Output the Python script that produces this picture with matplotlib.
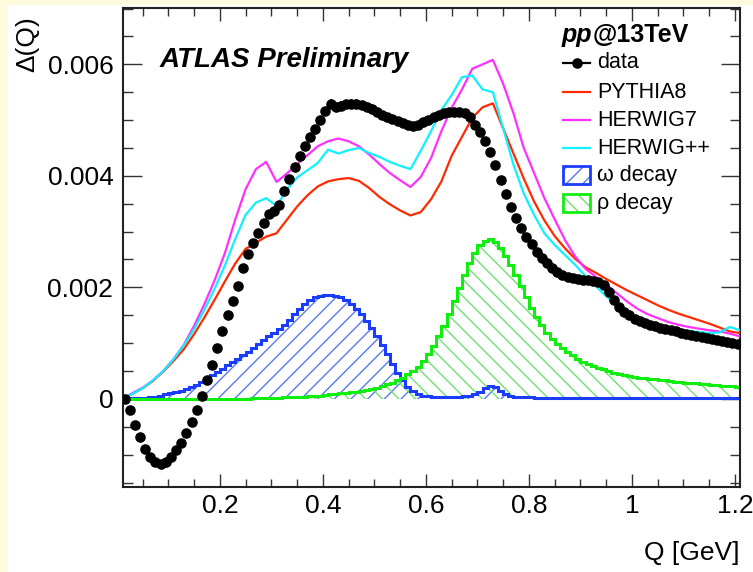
import numpy as np
import matplotlib
matplotlib.use('Agg')
import matplotlib.pyplot as plt
from matplotlib.patches import Rectangle
from matplotlib.lines import Line2D
from matplotlib.ticker import MultipleLocator, FuncFormatter

plt.rcParams['font.family'] = ['Liberation Sans', 'DejaVu Sans']
plt.rcParams['hatch.linewidth'] = 1.0

# ---------------- data ----------------
# histogram bins (0.01 GeV wide)
bin_edges = np.round(np.arange(0.01, 1.2101, 0.01), 3)
bin_centers = 0.5 * (bin_edges[:-1] + bin_edges[1:])

data_vals = [
    0.0, -0.00020, -0.00047, -0.00069, -0.00090, -0.00104, -0.00113, -0.00116, -0.00113, -0.00104,
    -0.00092, -0.00079, -0.00062, -0.00042, -0.00020, 0.00005, 0.00033, 0.00060, 0.00091, 0.00121,
    0.00150, 0.00176, 0.00203, 0.00235, 0.00259, 0.00279, 0.00298, 0.00316, 0.00331, 0.00337,
    0.00348, 0.00372, 0.00394, 0.00415, 0.00435, 0.00453, 0.00470, 0.00484, 0.00500, 0.00516,
    0.00528, 0.00524, 0.00526, 0.00528, 0.00529, 0.00529, 0.00527, 0.00524, 0.00520, 0.00515,
    0.00510, 0.00506, 0.00502, 0.00499, 0.00495, 0.00491, 0.00490, 0.00491, 0.00496, 0.00500,
    0.00505, 0.00509, 0.00512, 0.00514, 0.00515, 0.00515, 0.00512, 0.00505, 0.00491, 0.00478,
    0.00462, 0.00443, 0.00420, 0.00393, 0.00367, 0.00344, 0.00324, 0.00306, 0.00291, 0.00278,
    0.00264, 0.00253, 0.00243, 0.00235, 0.00228, 0.00223, 0.00219, 0.00216, 0.00215, 0.00214,
    0.00213, 0.00212, 0.00210, 0.00204, 0.00192, 0.00177, 0.00165, 0.00156, 0.00150, 0.00144,
    0.00139, 0.00136, 0.00133, 0.00130, 0.00128, 0.00125, 0.00123, 0.00121, 0.00119, 0.00117,
    0.00115, 0.00113, 0.00111, 0.00109, 0.00107, 0.00106, 0.00104, 0.00102, 0.00101, 0.00099,
]

data_errs = [
    0.00002, 0.00002, 0.00002, 0.00002, 0.00002, 0.00002, 0.00002, 0.00002, 0.00002, 0.00002,
    0.00002, 0.00002, 0.00002, 0.00002, 0.00002, 0.00002, 0.00002, 0.00002, 0.00002, 0.00002,
    0.00002, 0.00002, 0.00002, 0.00002, 0.00002, 0.00002, 0.00002, 0.00002, 0.00002, 0.00003,
    0.00003, 0.00003, 0.00003, 0.00003, 0.00003, 0.00003, 0.00004, 0.00004, 0.00005, 0.00006,
    0.00009, 0.00008, 0.00009, 0.00008, 0.00009, 0.00008, 0.00008, 0.00007, 0.00008, 0.00007,
    0.00007, 0.00007, 0.00007, 0.00007, 0.00007, 0.00007, 0.00007, 0.00007, 0.00007, 0.00007,
    0.00007, 0.00007, 0.00007, 0.00007, 0.00007, 0.00007, 0.00006, 0.00006, 0.00005, 0.00005,
    0.00004, 0.00004, 0.00004, 0.00004, 0.00004, 0.00004, 0.00004, 0.00004, 0.00005, 0.00005,
    0.00005, 0.00005, 0.00005, 0.00006, 0.00006, 0.00006, 0.00006, 0.00006, 0.00006, 0.00006,
    0.00006, 0.00006, 0.00006, 0.00006, 0.00006, 0.00006, 0.00006, 0.00006, 0.00006, 0.00006,
    0.00006, 0.00006, 0.00006, 0.00006, 0.00006, 0.00006, 0.00006, 0.00006, 0.00006, 0.00006,
    0.00006, 0.00006, 0.00006, 0.00006, 0.00006, 0.00006, 0.00006, 0.00006, 0.00006, 0.00006,
]

omega_vals = [
    0.0, 0.00001, 0.00001, 0.00002, 0.00002, 0.00003, 0.00004, 0.00006, 0.00008, 0.00010,
    0.00013, 0.00015, 0.00018, 0.00021, 0.00025, 0.00030, 0.00036, 0.00042, 0.00048, 0.00054,
    0.00060, 0.00066, 0.00072, 0.00078, 0.00084, 0.00091, 0.00098, 0.00105, 0.00112, 0.00119,
    0.00126, 0.00133, 0.00142, 0.00152, 0.00162, 0.00170, 0.00177, 0.00182, 0.00185, 0.00186,
    0.00186, 0.00185, 0.00182, 0.00177, 0.00170, 0.00162, 0.00152, 0.00140, 0.00127, 0.00113,
    0.00097, 0.00081, 0.00062, 0.00046, 0.00033, 0.00022, 0.00014, 0.00009, 0.00006, 0.00005,
    0.00004, 0.00004, 0.00004, 0.00004, 0.00004, 0.00004, 0.00005, 0.00006, 0.00009, 0.00013,
    0.00019, 0.00023, 0.00022, 0.00014, 0.00009, 0.00006, 0.00004, 0.00003, 0.00003, 0.00003,
    0.00002, 0.00002, 0.00002, 0.00001, 0.00001, 0.00001, 0.00001, 0.00001, 0.00001, 0.00001,
    0.00001, 0.00001, 0.00001, 0.00001, 0.00001, 0.00001, 0.00001, 0.00001, 0.00001, 0.00001,
    0.00001, 0.00001, 0.00001, 0.00001, 0.00001, 0.00001, 0.00001, 0.00001, 0.00001, 0.00001,
    0.00001, 0.00001, 0.00001, 0.00001, 0.00001, 0.00001, 0.00001, 0.00001, 0.00001, 0.00001,
]

rho_vals = [
    0.0, 0.0, 0.0, 0.0, 0.0, 0.0, 0.0, 0.0, 0.0, 0.0,
    0.0, 0.0, 0.0, 0.0, 0.0, 0.0, 0.0, 0.0, 0.0, 0.0,
    0.0, 0.0, 0.0, 0.0, 0.0, 0.00001, 0.00001, 0.00001, 0.00002, 0.00002,
    0.00002, 0.00003, 0.00003, 0.00003, 0.00004, 0.00004, 0.00005, 0.00006, 0.00006, 0.00007,
    0.00008, 0.00009, 0.00010, 0.00011, 0.00012, 0.00013, 0.00015, 0.00016, 0.00018, 0.00020,
    0.00023, 0.00026, 0.00029, 0.00033, 0.00038, 0.00044, 0.00050, 0.00058, 0.00068, 0.00080,
    0.00095, 0.00112, 0.00130, 0.00152, 0.00175, 0.00198, 0.00222, 0.00243, 0.00262, 0.00276,
    0.00284, 0.00286, 0.00281, 0.00270, 0.00256, 0.00240, 0.00222, 0.00202, 0.00182, 0.00163,
    0.00147, 0.00132, 0.00119, 0.00108, 0.00099, 0.00091, 0.00084, 0.00078, 0.00072, 0.00067,
    0.00063, 0.00059, 0.00056, 0.00053, 0.00050, 0.00047, 0.00045, 0.00043, 0.00041, 0.00039,
    0.00038, 0.00037, 0.00036, 0.00035, 0.00034, 0.00033, 0.00032, 0.00031, 0.00030, 0.00029,
    0.00028, 0.00028, 0.00027, 0.00026, 0.00025, 0.00025, 0.00024, 0.00023, 0.00023, 0.00022,
]

# MC curves (points every 0.02 GeV)
q_mc = np.round(np.arange(0.01, 1.2101, 0.02), 3)

pythia8 = [
    0.0, 0.00009, 0.00019, 0.00032, 0.00049, 0.00068, 0.00089, 0.00116, 0.00146, 0.00178,
    0.00211, 0.00243, 0.00269, 0.00280, 0.00291, 0.00297, 0.00321, 0.00345, 0.00365, 0.00381,
    0.00390, 0.00394, 0.00396, 0.00391, 0.00378, 0.00362, 0.00349, 0.00338, 0.00329, 0.00335,
    0.00358, 0.00390, 0.00436, 0.00470, 0.00504, 0.00523, 0.00530, 0.00485, 0.00440, 0.00395,
    0.00354, 0.00320, 0.00292, 0.00270, 0.00251, 0.00236, 0.00226, 0.00215, 0.00205, 0.00195,
    0.00186, 0.00177, 0.00168, 0.00160, 0.00153, 0.00147, 0.00141, 0.00135, 0.00128, 0.00121,
    0.00118,
]

herwig7 = [
    0.0, 0.00010, 0.00020, 0.00033, 0.00050, 0.00071, 0.00097, 0.00131, 0.00170, 0.00213,
    0.00262, 0.00322, 0.00376, 0.00412, 0.00425, 0.00389, 0.00404, 0.00421, 0.00437, 0.00453,
    0.00462, 0.00467, 0.00462, 0.00453, 0.00438, 0.00421, 0.00405, 0.00392, 0.00380, 0.00398,
    0.00432, 0.00480, 0.00522, 0.00555, 0.00592, 0.00600, 0.00608, 0.00565, 0.00512, 0.00450,
    0.00405, 0.00360, 0.00322, 0.00285, 0.00255, 0.00233, 0.00219, 0.00205, 0.00190, 0.00175,
    0.00162, 0.00152, 0.00145, 0.00138, 0.00133, 0.00129, 0.00126, 0.00123, 0.00121, 0.00117,
    0.00112,
]

herwigpp = [
    0.0, 0.00009, 0.00019, 0.00033, 0.00050, 0.00071, 0.00096, 0.00125, 0.00160, 0.00198,
    0.00240, 0.00287, 0.00330, 0.00352, 0.00360, 0.00346, 0.00375, 0.00397, 0.00410, 0.00423,
    0.00447, 0.00440, 0.00446, 0.00450, 0.00441, 0.00434, 0.00425, 0.00418, 0.00412, 0.00445,
    0.00480, 0.00518, 0.00545, 0.00577, 0.00580, 0.00555, 0.00550, 0.00485, 0.00420, 0.00368,
    0.00330, 0.00297, 0.00276, 0.00258, 0.00240, 0.00220, 0.00202, 0.00184, 0.00168, 0.00157,
    0.00148, 0.00140, 0.00134, 0.00129, 0.00125, 0.00122, 0.00120, 0.00118, 0.00119, 0.00129,
    0.00123,
]

labels = ['data', 'PYTHIA8', 'HERWIG7', 'HERWIG++', '\u03c9 decay', '\u03c1 decay']

# ---------------- style ----------------
C_RED = '#ff2a00'
C_MAG = '#ff30ff'
C_CYAN = '#10f0ff'
C_BLUE = '#1a3cff'
C_BLUE_H = '#5a78f0'
C_GREEN = '#10ee10'
C_GREEN_H = '#70e070'
C_BG = '#fffbdc'

W, H = 753, 572
fig = plt.figure(figsize=(W / 100, H / 100), dpi=100)
fig.patch.set_facecolor('white')


def fx(px):
    return px / W


def fy(py):
    return 1 - py / H


# slide background strips
fig.patches.append(Rectangle((0, 0), fx(8), 1, transform=fig.transFigure,
                             facecolor=C_BG, edgecolor='none', zorder=-10))
fig.patches.append(Rectangle((0, fy(5)), 1, 5 / H, transform=fig.transFigure,
                             facecolor=C_BG, edgecolor='none', zorder=-10))

ax = fig.add_axes([fx(123), fy(487), (740 - 123) / W, (487 - 8) / H])

# histograms
ax.stairs(omega_vals, bin_edges, baseline=0, fill=True, facecolor='none',
          edgecolor=C_BLUE_H, hatch='//', linewidth=0, zorder=1)
ax.stairs(omega_vals, bin_edges, baseline=0, color=C_BLUE, linewidth=2.2, zorder=2)
ax.stairs(rho_vals, bin_edges, baseline=0, fill=True, facecolor='none',
          edgecolor=C_GREEN_H, hatch='\\\\', linewidth=0, zorder=1)
ax.stairs(rho_vals, bin_edges, baseline=0, color=C_GREEN, linewidth=2.2, zorder=2)

# MC lines
ax.plot(q_mc, pythia8, color=C_RED, lw=1.6, zorder=3)
ax.plot(q_mc, herwig7, color=C_MAG, lw=1.6, zorder=3)
ax.plot(q_mc, herwigpp, color=C_CYAN, lw=1.6, zorder=3)

# data
ax.errorbar(bin_centers, data_vals, yerr=data_errs, fmt='o', color='black', ms=6.6,
            elinewidth=1.2, capsize=0, zorder=5)

ax.set_xlim(0.012, 1.2097)
ax.set_ylim(-0.00158, 0.00701)

ax.xaxis.set_major_locator(MultipleLocator(0.2))
ax.xaxis.set_minor_locator(MultipleLocator(0.05))
ax.yaxis.set_major_locator(MultipleLocator(0.002))
ax.yaxis.set_minor_locator(MultipleLocator(0.0005))
ax.xaxis.set_major_formatter(FuncFormatter(lambda v, p: f'{v:g}'))
ax.yaxis.set_major_formatter(FuncFormatter(lambda v, p: '0' if abs(v) < 1e-12 else f'{v:.3f}'))

ax.tick_params(which='both', direction='in', top=True, right=True,
               labelsize=19, width=1.0, color='#333333')
ax.tick_params(axis='y', which='major', length=14, pad=7)
ax.tick_params(axis='y', which='minor', length=7.5)
ax.tick_params(axis='x', which='major', length=9.5, pad=5)
ax.tick_params(axis='x', which='minor', length=5.5)
for s in ax.spines.values():
    s.set_linewidth(1.5)
    s.set_color('#222222')

# axis titles
fig.text(fx(27), fy(16), '\u0394(Q)', rotation=90, ha='center', va='top', fontsize=19)
fig.text(fx(740), fy(553), 'Q [GeV]', ha='right', va='center', fontsize=19)

# ATLAS label
fig.text(fx(160), fy(60), 'ATLAS Preliminary', fontsize=20, weight='bold',
         style='italic', ha='left', va='center')

# legend (manual, ROOT style)
renderer = fig.canvas.get_renderer()
t1 = fig.text(fx(562), fy(35), 'pp', fontsize=18, weight='bold', style='italic',
              ha='left', va='center')
bb = t1.get_window_extent(renderer)
fig.text(bb.x1 / W, fy(35), '@13TeV', fontsize=18, weight='bold', ha='left', va='center')

ys = [63, 92, 120, 148, 175, 203]
x0, x1, xt = 563, 590, 597
# data entry
fig.add_artist(Line2D([fx(x0), fx(x1)], [fy(ys[0]), fy(ys[0])], transform=fig.transFigure,
                      color='black', lw=1.6))
fig.add_artist(Line2D([fx((x0 + x1) / 2)], [fy(ys[0])], transform=fig.transFigure,
                      color='black', marker='o', ms=6.6))
for yy, c in zip(ys[1:4], [C_RED, C_MAG, C_CYAN]):
    fig.add_artist(Line2D([fx(x0), fx(x1)], [fy(yy), fy(yy)], transform=fig.transFigure,
                          color=c, lw=1.6))
for yy, c, ch, h in zip(ys[4:], [C_BLUE, C_GREEN], [C_BLUE_H, C_GREEN_H], ['//', '\\\\']):
    fig.add_artist(Rectangle((fx(x0), fy(yy + 9)), (x1 - x0) / W, 18 / H,
                             transform=fig.transFigure, facecolor='none',
                             edgecolor=ch, hatch=h, lw=0))
    fig.add_artist(Rectangle((fx(x0), fy(yy + 9)), (x1 - x0) / W, 18 / H,
                             transform=fig.transFigure, facecolor='none',
                             edgecolor=c, lw=2))
for yy, lab in zip(ys, labels):
    fig.text(fx(xt), fy(yy), lab, fontsize=15.5, ha='left', va='center')

fig.savefig('out.png', dpi=100)
